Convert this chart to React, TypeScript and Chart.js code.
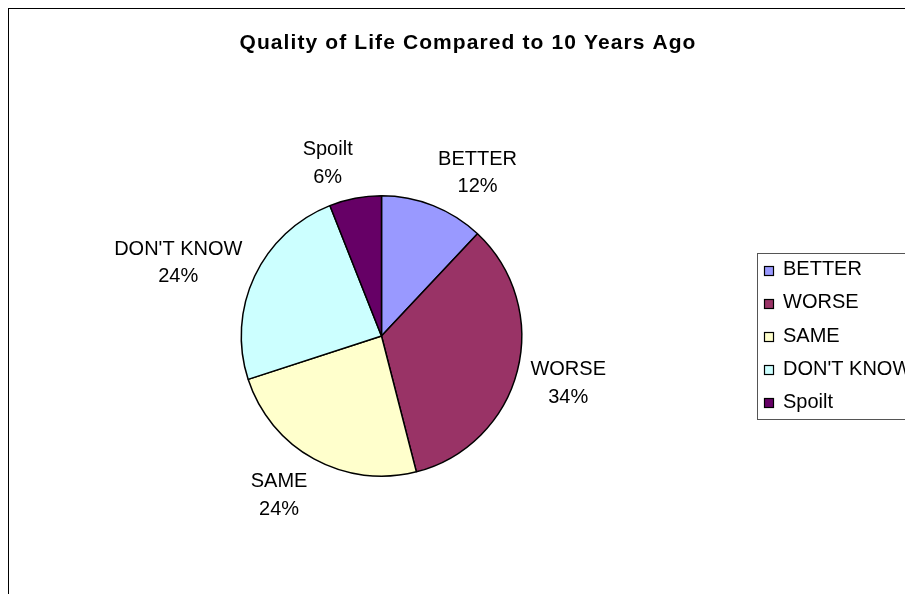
import React, { useEffect, useRef } from "react";
import { Chart, registerables } from "chart.js";

Chart.register(...registerables);

const TITLE = "Quality of Life Compared to 10 Years Ago";
const categories = ["BETTER", "WORSE", "SAME", "DON'T KNOW", "Spoilt"];
const values = [12, 34, 24, 24, 6];
const colors = ["#9999FF", "#993366", "#FFFFCC", "#CCFFFF", "#660066"];

const FONT = "'Liberation Sans', Arial, sans-serif";
const W = 904;
const H = 585;
const CX = 372.5;
const CY = 327;
const R = 141;
const LABEL_GAP = 13.5;
const LINE_GAP = 27.5;
const LEGEND_X = 748;
const LEGEND_ROW = 33.2;

const titlePlugin = {
  id: "excelTitle",
  afterDraw(chart: any) {
    const ctx = chart.ctx;
    ctx.save();
    ctx.font = `bold 21px ${FONT}`;
    (ctx as any).letterSpacing = "1.1px";
    ctx.fillStyle = "#000";
    ctx.textAlign = "center";
    ctx.textBaseline = "alphabetic";
    ctx.fillText(TITLE, 459, 39.5);
    ctx.restore();
  },
};

const labelPlugin = {
  id: "outsideLabels",
  afterDatasetsDraw(chart: any) {
    const ctx = chart.ctx;
    const meta = chart.getDatasetMeta(0);
    const data: number[] = chart.data.datasets[0].data;
    const total = data.reduce((a, b) => a + b, 0);
    ctx.save();
    ctx.font = `20px ${FONT}`;
    ctx.fillStyle = "#000";
    ctx.textAlign = "center";
    ctx.textBaseline = "middle";
    meta.data.forEach((arc: any, i: number) => {
      const p = arc.getProps(["x", "y", "startAngle", "endAngle", "outerRadius"], true);
      const mid = (p.startAngle + p.endAngle) / 2;
      const dx = Math.cos(mid);
      const dy = Math.sin(mid);
      const px = p.x + dx * (p.outerRadius + LABEL_GAP);
      const py = p.y + dy * (p.outerRadius + LABEL_GAP);
      const l1 = chart.data.labels[i];
      const l2 = Math.round((data[i] / total) * 100) + "%";
      const w = Math.max(ctx.measureText(l1).width, ctx.measureText(l2).width);
      const h = LINE_GAP * 2 - 5;
      const cx = px + Math.sign(dx) * (w / 2);
      const cy = py + dy * (h / 2) + 3;
      ctx.fillText(l1, cx, cy - LINE_GAP / 2);
      ctx.fillText(l2, cx, cy + LINE_GAP / 2);
    });
    ctx.restore();
  },
};

const legendPlugin = {
  id: "boxLegend",
  afterDraw(chart: any) {
    const ctx = chart.ctx;
    const labels: string[] = chart.data.labels;
    const bg: string[] = chart.data.datasets[0].backgroundColor;
    const area = chart.chartArea;
    const cy = (area.top + area.bottom) / 2;
    const n = labels.length;
    const first = cy - ((n - 1) / 2) * LEGEND_ROW;
    const top = first - LEGEND_ROW / 2;
    const bottom = first + (n - 1) * LEGEND_ROW + LEGEND_ROW / 2;
    ctx.save();
    ctx.font = `20px ${FONT}`;
    let maxW = 0;
    labels.forEach((l) => (maxW = Math.max(maxW, ctx.measureText(l).width)));
    const boxW = 26 + maxW + 10;
    ctx.fillStyle = "#fff";
    ctx.fillRect(LEGEND_X, top, boxW, bottom - top);
    ctx.strokeStyle = "#555";
    ctx.lineWidth = 1;
    ctx.strokeRect(Math.round(LEGEND_X) + 0.5, Math.round(top) + 0.5, boxW, Math.round(bottom - top));
    ctx.textAlign = "left";
    ctx.textBaseline = "middle";
    labels.forEach((l, i) => {
      const ry = first + i * LEGEND_ROW;
      const sx = Math.round(LEGEND_X + 7) + 0.5;
      const sy = Math.round(ry - 4) + 0.5;
      ctx.fillStyle = bg[i];
      ctx.fillRect(sx, sy, 9, 9);
      ctx.strokeStyle = "#000";
      ctx.lineWidth = 1.2;
      ctx.strokeRect(sx, sy, 9, 9);
      ctx.fillStyle = "#000";
      ctx.fillText(l, LEGEND_X + 26, ry);
    });
    ctx.restore();
  },
};

export default function App() {
  const ref = useRef<HTMLCanvasElement | null>(null);
  useEffect(() => {
    document.documentElement.style.overflow = "hidden";
    document.body.style.overflow = "hidden";
    if (!ref.current) return;
    const chart = new Chart(ref.current, {
      type: "pie",
      data: {
        labels: categories,
        datasets: [
          {
            data: values,
            backgroundColor: colors,
            borderColor: "#000",
            borderWidth: 1.5,
          },
        ],
      },
      options: {
        responsive: false,
        animation: false,
        devicePixelRatio: 1,
        layout: {
          padding: {
            left: CX - R,
            top: CY - R,
            right: W - (CX + R),
            bottom: H - (CY + R),
          },
        },
        plugins: {
          legend: { display: false },
          tooltip: { enabled: false },
          title: { display: false },
        },
      },
      plugins: [labelPlugin, legendPlugin, titlePlugin],
    });
    return () => chart.destroy();
  }, []);
  return (
    <div
      style={{
        position: "relative",
        width: W + 1,
        height: H + 1,
        borderLeft: "1px solid #000",
        borderTop: "1px solid #000",
        boxShadow: "-1px -1px 0 #999",
        boxSizing: "border-box",
        background: "#fff",
      }}
    >
      <canvas ref={ref} width={W} height={H} style={{ display: "block" }} />
    </div>
  );
}
